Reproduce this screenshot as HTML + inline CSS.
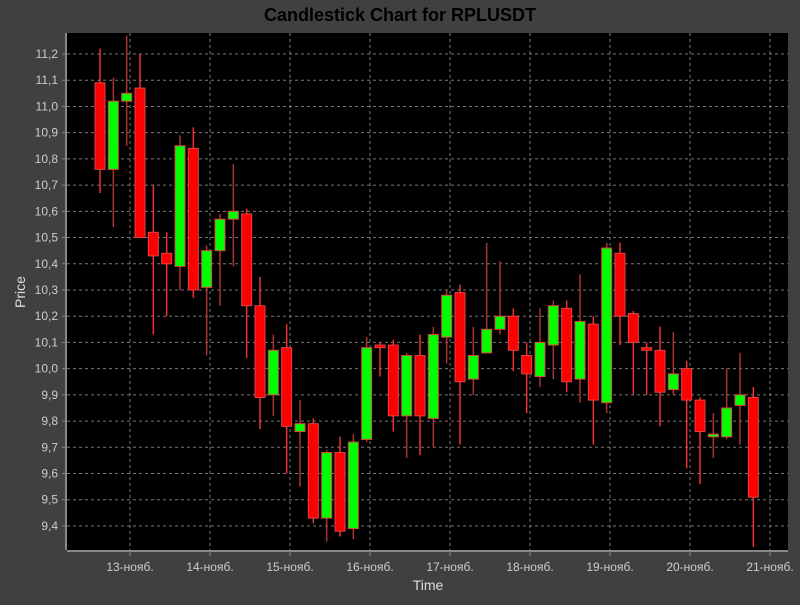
<!DOCTYPE html>
<html><head><meta charset="utf-8"><style>
body{margin:0;background:#404040;width:800px;height:600px;overflow:hidden}
svg text{font-family:"Liberation Sans",sans-serif}
</style></head><body>
<svg id="chart" width="800" height="600">
<rect x="0" y="0" width="800" height="600" fill="#404040"/>
<text x="400" y="21" text-anchor="middle" font-size="18" font-weight="bold" fill="#000">Candlestick Chart for RPLUSDT</text>
<rect x="67" y="33" width="721" height="517" fill="#000"/>
<g id="grid"></g><g id="axes"></g><g id="candles"></g>
<text x="428" y="590" text-anchor="middle" font-size="14" fill="#ddd">Time</text>
<text x="25" y="292" text-anchor="middle" font-size="14" fill="#ddd" transform="rotate(-90 25 292)">Price</text>
</svg>
<script>
const opens=[11.09,10.76,11.02,11.07,10.52,10.44,10.39,10.84,10.31,10.45,10.57,10.59,10.24,9.90,10.08,9.76,9.79,9.43,9.68,9.39,9.73,10.09,10.09,9.82,10.05,9.81,10.12,10.29,9.96,10.06,10.15,10.20,10.05,9.97,10.09,10.23,9.96,10.17,9.87,10.44,10.21,10.08,10.07,9.92,10.00,9.88,9.74,9.74,9.86,9.89];
const closes=[10.76,11.02,11.05,10.50,10.43,10.40,10.85,10.30,10.45,10.57,10.60,10.24,9.89,10.07,9.78,9.79,9.43,9.68,9.38,9.72,10.08,10.08,9.82,10.05,9.82,10.13,10.28,9.95,10.05,10.15,10.20,10.07,9.98,10.10,10.24,9.95,10.18,9.88,10.46,10.20,10.10,10.07,9.91,9.98,9.88,9.76,9.75,9.85,9.90,9.51];
const highs=[11.22,11.11,11.27,11.20,10.70,10.52,10.89,10.92,10.47,10.59,10.78,10.61,10.35,10.13,10.17,9.88,9.81,9.69,9.74,9.75,10.12,10.10,10.11,10.06,10.13,10.16,10.30,10.32,10.16,10.48,10.41,10.23,10.10,10.23,10.26,10.26,10.36,10.20,10.48,10.48,10.22,10.10,10.16,10.14,10.03,9.89,9.83,10.00,10.06,9.93];
const lows=[10.67,10.54,10.85,10.50,10.13,10.20,10.30,10.27,10.05,10.24,10.39,10.04,9.77,9.82,9.60,9.55,9.41,9.34,9.36,9.35,9.72,9.97,9.76,9.66,9.67,9.70,10.02,9.71,9.90,10.06,10.13,9.99,9.83,9.93,9.96,9.91,9.87,9.71,9.83,10.09,9.90,9.90,9.78,9.90,9.62,9.56,9.66,9.73,9.71,9.32];
const yTicks=[11.2,11.1,11.0,10.9,10.8,10.7,10.6,10.5,10.4,10.3,10.2,10.1,10.0,9.9,9.8,9.7,9.6,9.5,9.4];
const dayLabels=["13-нояб.","14-нояб.","15-нояб.","16-нояб.","17-нояб.","18-нояб.","19-нояб.","20-нояб.","21-нояб."];
const firstHour=-9, stepHours=4;
const NS="http://www.w3.org/2000/svg";
const y=v=>54+(11.2-v)*262.2;
const xh=h=>130+h/24*80;
function mk(tag,attrs,parent){const e=document.createElementNS(NS,tag);for(const k in attrs)e.setAttribute(k,attrs[k]);parent.appendChild(e);return e;}
const grid=document.getElementById('grid'),axes=document.getElementById('axes'),cg=document.getElementById('candles');
yTicks.forEach(v=>{
 const l=mk('line',{x1:67,x2:788,y1:y(v),y2:y(v),stroke:'#777','stroke-dasharray':'3,3','stroke-width':1},grid);
 
 
 const t=mk('text',{x:58,y:y(v)+4,'text-anchor':'end','font-size':12,fill:'#ccc'},axes);
 t.textContent=v.toFixed(1).replace('.',',');
 
 
 mk('line',{x1:62,x2:66,y1:y(v),y2:y(v),stroke:'#888'},axes);
});
dayLabels.forEach((d,i)=>{
 const x=xh(i*24);
 const l=mk('line',{x1:x,x2:x,y1:33,y2:550,stroke:'#777','stroke-dasharray':'3,3'},grid);
 
 
 mk('line',{x1:x,x2:x,y1:552,y2:556,stroke:'#888'},axes);
 const t=mk('text',{x:x,y:571,'text-anchor':'middle','font-size':12,fill:'#ccc'},axes);
 t.textContent=d;
 
 
});
mk('line',{x1:66,x2:66,y1:33,y2:550,stroke:'#888','stroke-width':2},axes);
mk('line',{x1:67,x2:788,y1:551,y2:551,stroke:'#888','stroke-width':2},axes);
opens.forEach((o,i)=>{
 const c=closes[i],x=xh(firstHour+i*stepHours),up=c>=o;
 const w=mk('line',{x1:x,x2:x,y1:y(highs[i]),y2:y(lows[i]),stroke:up?'#a33':'#e33','stroke-width':1.5},cg);
 
 
 const top=y(Math.max(o,c)),bot=y(Math.min(o,c));
 const b=mk('rect',{x:x-5,y:top,width:10,height:Math.max(bot-top,1.5),fill:up?'#00ff00':'#ff0000',stroke:'#d44','stroke-width':1},cg);
 
 
});
</script>
</body></html>
